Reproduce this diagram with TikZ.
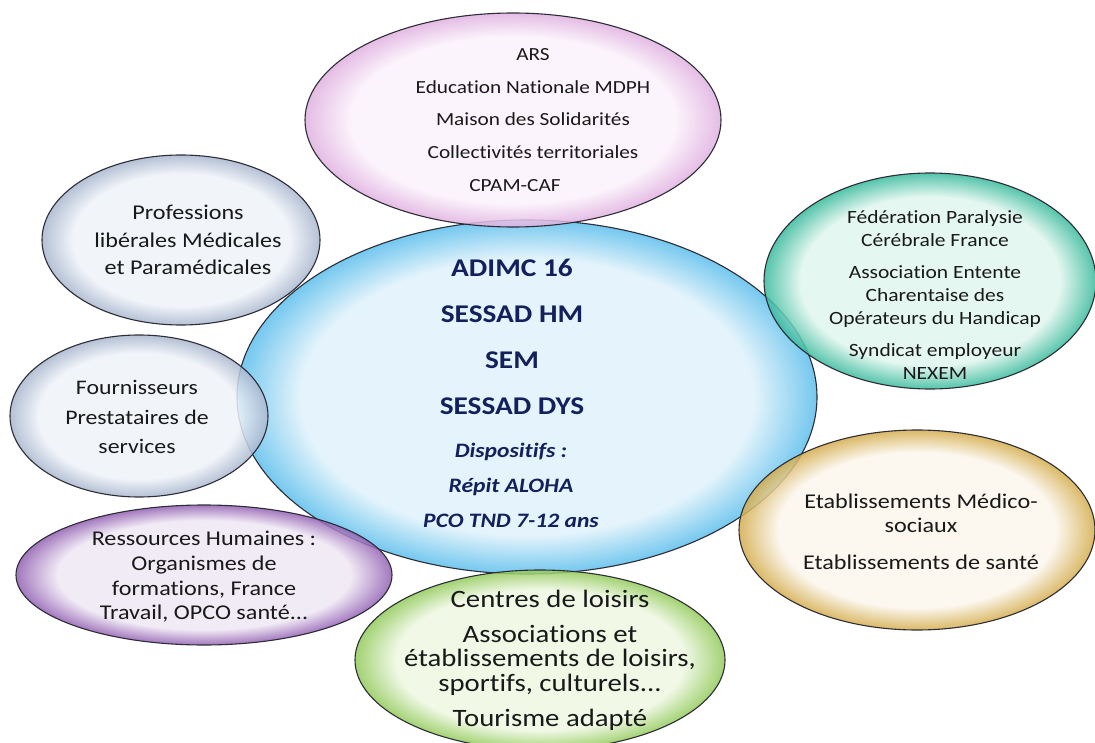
\documentclass[tikz,border=0pt]{standalone}
\usepackage{fontspec}
\setmainfont{Carlito}[FakeStretch=1.15,Ligatures=NoCommon]
\usepackage{tikz}
\usetikzlibrary{shapes.geometric}

\definecolor{bubbleline}{RGB}{45,45,55}
\definecolor{textdark}{RGB}{25,25,25}
\definecolor{textnavy}{RGB}{20,32,92}
\definecolor{pinkin}{RGB}{251,242,251}
\definecolor{pinkout}{RGB}{224,176,224}
\definecolor{bluein}{RGB}{224,242,251}
\definecolor{blueout}{RGB}{92,190,236}
\definecolor{greyin}{RGB}{238,242,248}
\definecolor{greyout}{RGB}{168,182,206}
\definecolor{purplein}{RGB}{239,231,244}
\definecolor{purpleout}{RGB}{146,96,178}
\definecolor{tealin}{RGB}{224,246,238}
\definecolor{tealout}{RGB}{56,186,156}
\definecolor{goldin}{RGB}{251,246,236}
\definecolor{goldout}{RGB}{212,172,76}
\definecolor{greenin}{RGB}{238,247,226}
\definecolor{greenout}{RGB}{146,202,90}

\colorlet{glassin}{white}
\colorlet{glassout}{gray}
\pgfdeclareradialshading[glassin,glassout]{glass}{\pgfpointorigin}{color(0bp)=(glassin); color(19.5bp)=(glassin); color(25bp)=(glassout); color(50bp)=(glassout)}

\tikzset{
  bubble/.style 2 args={ellipse, inner sep=0pt, draw=bubbleline, line width=1.1pt,
    /utils/exec={\colorlet{glassin}{#1}\colorlet{glassout}{#2}},
    shade, shading=glass, fill opacity=0.85},
  bubbletext/.style={align=center, text=textdark, inner sep=0pt}
}

\begin{document}
\begin{tikzpicture}
    \useasboundingbox (0,0) rectangle (1095pt,-743pt);
    % bubbles
    \node[bubble={bluein}{blueout},minimum width=580pt,minimum height=354pt] (adimc) at (527pt,-397pt) {};
    \node[bubble={pinkin}{pinkout},minimum width=416pt,minimum height=214pt] (tutelles) at (513pt,-120pt) {};
    \node[bubble={greyin}{greyout},minimum width=278pt,minimum height=170pt] (liberal) at (181pt,-240pt) {};
    \node[bubble={greyin}{greyout},minimum width=258pt,minimum height=162pt] (fournis) at (139pt,-416pt) {};
    \node[bubble={purplein}{purpleout},minimum width=376pt,minimum height=140pt] (rh) at (204pt,-575pt) {};
    \node[bubble={greenin}{greenout},minimum width=370pt,minimum height=180pt] (loisirs) at (540pt,-660pt) {};
    \node[bubble={goldin}{goldout},minimum width=356pt,minimum height=200pt] (etab) at (917pt,-530pt) {};
    \node[bubble={tealin}{tealout},minimum width=332pt,minimum height=216pt] (reseau) at (930pt,-281pt) {};
    % texts
    \node[bubbletext,text=textnavy,font=\fontsize{25.5}{46}\selectfont\bfseries] (adimc text) at (512pt,-337pt) {ADIMC 16\\SESSAD HM\\SEM\\SESSAD DYS};
    \node[bubbletext,text=textnavy,font=\fontsize{20.5}{35}\selectfont\bfseries\itshape] (dispo text) at (511pt,-485pt) {Dispositifs :\\Répit ALOHA\\PCO TND 7-12 ans};
    \node[bubbletext,font=\fontsize{18.5}{32.75}\selectfont] (tutelles text) at (533pt,-120pt) {ARS\\Education Nationale MDPH\\Maison des Solidarités\\Collectivités territoriales\\CPAM-CAF\hspace*{36pt}};
    \node[bubbletext,font=\fontsize{21}{27.5}\selectfont] (liberal text) at (188pt,-240pt) {Professions\\libérales Médicales\\et Paramédicales};
    \node[bubbletext,font=\fontsize{20.7}{29.5}\selectfont] (fournis text) at (137pt,-417pt) {Fournisseurs\\Prestataires de\\services};
    \node[bubbletext,font=\fontsize{21}{24.7}\selectfont] (rh text) at (204pt,-577pt) {Ressources Humaines :\\Organismes de\\formations, France\\Travail, OPCO santé...};
    \node[bubbletext,font=\fontsize{25}{24.5}\selectfont] (loisirs text) at (550pt,-660pt) {Centres de loisirs\\[10.5pt]Associations et\\établissements de loisirs,\\sportifs, culturels...\\[10.5pt]Tourisme adapté};
    \node[bubbletext,font=\fontsize{21}{24}\selectfont] (etab text) at (921pt,-532pt) {Etablissements Médico-\\sociaux\\[13pt]Etablissements de santé};
    \node[bubbletext,font=\fontsize{18.7}{23}\selectfont] (reseau text) at (935pt,-295pt) {Fédération Paralysie\\Cérébrale France\\[9pt]Association Entente\\Charentaise des\\Opérateurs du Handicap\\[9pt]Syndicat employeur\\NEXEM};
\end{tikzpicture}
\end{document}
